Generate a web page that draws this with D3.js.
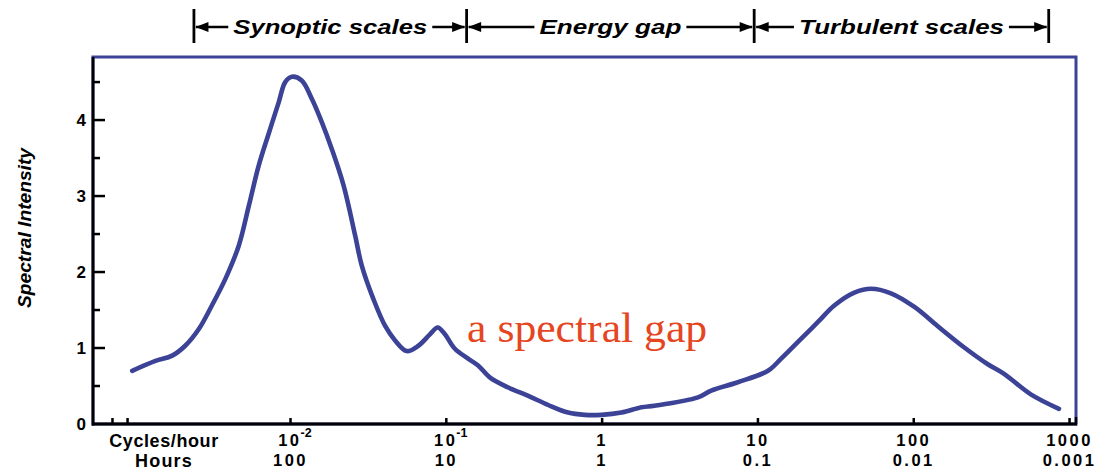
<!DOCTYPE html>
<html>
<head>
<meta charset="utf-8">
<script src="https://cdn.jsdelivr.net/npm/d3@7"></script>
<style>
  html, body { margin: 0; padding: 0; background: #ffffff; }
  svg { display: block; }
</style>
</head>
<body>
<svg id="chart" width="1112" height="471"></svg>
<script>
// Frequency (cycles per hour) along the spectrum
const frequency = [
  0.000964, 0.00136, 0.00174, 0.00211, 0.00258, 0.00313, 0.00382, 0.00466,
  0.00540, 0.00625, 0.00724, 0.00839, 0.00925, 0.0102, 0.0118, 0.0137,
  0.0159, 0.0184, 0.0219, 0.0260, 0.0287, 0.0341, 0.0405, 0.0469,
  0.0557, 0.0662, 0.0785, 0.0881, 0.0980, 0.1135, 0.138, 0.160,
  0.191, 0.250, 0.336, 0.451, 0.605, 0.774, 0.991, 1.33,
  1.79, 2.17, 4.12, 5.01, 7.43, 11.6, 14.1, 18.9,
  24.2, 30.9, 41.6, 53.2, 71.4, 101, 142, 210,
  297, 380, 564, 855
];
// Spectral intensity at each frequency
const intensity = [
  0.70, 0.83, 0.90, 1.03, 1.25, 1.56, 1.91, 2.35,
  2.87, 3.40, 3.82, 4.23, 4.50, 4.57, 4.52, 4.28,
  3.97, 3.62, 3.14, 2.48, 2.08, 1.64, 1.29, 1.10,
  0.96, 1.03, 1.18, 1.27, 1.18, 0.99, 0.86, 0.77,
  0.61, 0.48, 0.37, 0.25, 0.15, 0.12, 0.12, 0.15,
  0.22, 0.24, 0.35, 0.44, 0.55, 0.70, 0.86, 1.12,
  1.34, 1.56, 1.73, 1.78, 1.72, 1.54, 1.29, 1.01,
  0.79, 0.66, 0.39, 0.20
];

// Bottom axis: cycles/hour with matching period in hours
const cycleTicks = [0.01, 0.1, 1, 10, 100, 1000];
const cycleBase = ["10", "10", "1", "10", "100", "1000"];
const cycleExp = ["-2", "-1", "", "", "", ""];
const hourLabels = ["100", "10", "1", "0.1", "0.01", "0.001"];
const extraTicks = [0.00072, 0.00090];

// Left axis
const yMajor = [0, 1, 2, 3, 4];
const yMinor = [0.5, 1.5, 2.5, 3.5, 4.5];

// Scale ranges along the top
const bandNames = ["Synoptic scales", "Energy gap", "Turbulent scales"];
const bandEdges = [0.00240, 0.1350, 9.46, 735];
const bandTextWidth = [194, 142, 205];

const annotation = "a spectral gap";

const blue = "#3c4396";
const svg = d3.select("#chart");

const x = d3.scaleLog().domain([0.00054, 1100]).range([93, 1076]);
const y = d3.scaleLinear().domain([0, 4.83]).range([424, 57]);

// Blue plot frame
svg.append("rect")
  .attr("x", x.range()[0]).attr("y", y.range()[1])
  .attr("width", x.range()[1] - x.range()[0])
  .attr("height", y.range()[0] - y.range()[1])
  .attr("fill", "none").attr("stroke", blue).attr("stroke-width", 3);

// Spectrum curve
const pts = frequency.map((f, i) => [f, intensity[i]]);
const line = d3.line()
  .x(d => x(d[0])).y(d => y(d[1]))
  .curve(d3.curveCatmullRom.alpha(0.5));
svg.append("path")
  .attr("d", line(pts))
  .attr("fill", "none").attr("stroke", blue)
  .attr("stroke-width", 4.6)
  .attr("stroke-linecap", "round").attr("stroke-linejoin", "round");

// Axes
const axisG = svg.append("g");
axisG.append("line")
  .attr("x1", x.range()[0]).attr("x2", x.range()[0])
  .attr("y1", y.range()[1]).attr("y2", y.range()[0] + 1.5)
  .attr("stroke", "#000").attr("stroke-width", 2.8);
axisG.append("line")
  .attr("x1", x.range()[0] - 1).attr("x2", x.range()[1] + 1)
  .attr("y1", y(0)).attr("y2", y(0))
  .attr("stroke", "#000").attr("stroke-width", 2.8);
axisG.append("line")
  .attr("x1", x.range()[1]).attr("x2", x.range()[1])
  .attr("y1", y(0)).attr("y2", y(0) - 7)
  .attr("stroke", "#000").attr("stroke-width", 2.5);

yMajor.filter(v => v > 0).forEach(v => {
  axisG.append("line").attr("x1", x.range()[0]).attr("x2", x.range()[0] + 12)
    .attr("y1", y(v)).attr("y2", y(v)).attr("stroke", "#000").attr("stroke-width", 2.5);
});
yMinor.forEach(v => {
  axisG.append("line").attr("x1", x.range()[0]).attr("x2", x.range()[0] + 7)
    .attr("y1", y(v)).attr("y2", y(v)).attr("stroke", "#000").attr("stroke-width", 2.5);
});
const labelFont = "Liberation Sans, Arial, sans-serif";
yMajor.forEach(v => {
  axisG.append("text").attr("x", x.range()[0] - 7).attr("y", y(v) + 6)
    .attr("text-anchor", "end")
    .attr("font-family", labelFont)
    .attr("font-weight", "bold").attr("font-size", 17)
    .text(v);
});

cycleTicks.concat(extraTicks).forEach(v => {
  axisG.append("line").attr("x1", x(v)).attr("x2", x(v))
    .attr("y1", y(0)).attr("y2", y(0) - 6)
    .attr("stroke", "#000").attr("stroke-width", 2.5);
});

cycleTicks.forEach((v, i) => {
  const t = axisG.append("text")
    .attr("x", x(v)).attr("y", 446)
    .attr("text-anchor", "middle")
    .attr("font-family", labelFont).attr("font-weight", "bold")
    .attr("font-size", 16.5).attr("letter-spacing", 2.5);
  if (cycleExp[i]) {
    t.attr("text-anchor", "end").attr("x", x(v) + 11).text(cycleBase[i]);
    axisG.append("text").attr("x", x(v) + 10).attr("y", 437)
      .attr("font-family", labelFont).attr("font-weight", "bold")
      .attr("font-size", 12.5).text(cycleExp[i]);
  } else {
    t.text(cycleBase[i]);
  }
  axisG.append("text")
    .attr("x", x(v)).attr("y", 466)
    .attr("text-anchor", "middle")
    .attr("font-family", labelFont).attr("font-weight", "bold")
    .attr("font-size", 16.5).attr("letter-spacing", 2.5)
    .text(hourLabels[i]);
});

axisG.append("text").attr("x", 164).attr("y", 447)
  .attr("text-anchor", "middle")
  .attr("font-family", labelFont).attr("font-weight", "bold")
  .attr("font-size", 18).attr("letter-spacing", 0.6)
  .text("Cycles/hour");
axisG.append("text").attr("x", 164).attr("y", 467)
  .attr("text-anchor", "middle")
  .attr("font-family", labelFont).attr("font-weight", "bold")
  .attr("font-size", 18).attr("letter-spacing", 1.2)
  .text("Hours");

// Y axis title
svg.append("text")
  .attr("transform", "translate(31,228) rotate(-90)")
  .attr("text-anchor", "middle")
  .attr("font-family", labelFont).attr("font-weight", "bold")
  .attr("font-style", "italic").attr("font-size", 19)
  .attr("textLength", 160).attr("lengthAdjust", "spacingAndGlyphs")
  .text("Spectral Intensity");

// Scale bands along the top
const hdr = svg.append("g");
const hy = 27;
bandEdges.forEach(v => {
  hdr.append("line").attr("x1", x(v)).attr("x2", x(v))
    .attr("y1", 9).attr("y2", 43)
    .attr("stroke", "#000").attr("stroke-width", 2.8);
});
function arrowHead(tipX, dir) {
  const len = 13, half = 5;
  hdr.append("path")
    .attr("d", `M${tipX},${hy} L${tipX - dir * len},${hy - half} L${tipX - dir * len},${hy + half} Z`)
    .attr("fill", "#000");
}
bandNames.forEach((name, i) => {
  const x0 = x(bandEdges[i]), x1 = x(bandEdges[i + 1]);
  const cx = (x0 + x1) / 2;
  const w = bandTextWidth[i];
  hdr.append("text").attr("x", cx - w / 2).attr("y", hy + 7)
    .attr("font-family", labelFont).attr("font-weight", "bold")
    .attr("font-style", "italic").attr("font-size", 21)
    .attr("textLength", w).attr("lengthAdjust", "spacingAndGlyphs")
    .text(name);
  hdr.append("line").attr("x1", x0 + 2).attr("x2", cx - w / 2 - 5)
    .attr("y1", hy).attr("y2", hy).attr("stroke", "#000").attr("stroke-width", 2.4);
  hdr.append("line").attr("x1", cx + w / 2 + 5).attr("x2", x1 - 2)
    .attr("y1", hy).attr("y2", hy).attr("stroke", "#000").attr("stroke-width", 2.4);
  arrowHead(x0 + 1.5, -1);
  arrowHead(x1 - 1.5, 1);
});

// Annotation over the gap
svg.append("text")
  .attr("x", x(0.136)).attr("y", y(1.08))
  .attr("font-family", "Liberation Serif, Times New Roman, serif")
  .attr("font-size", 43).attr("fill", "#e5461f")
  .attr("textLength", 240).attr("lengthAdjust", "spacingAndGlyphs")
  .text(annotation);
</script>
</body>
</html>
